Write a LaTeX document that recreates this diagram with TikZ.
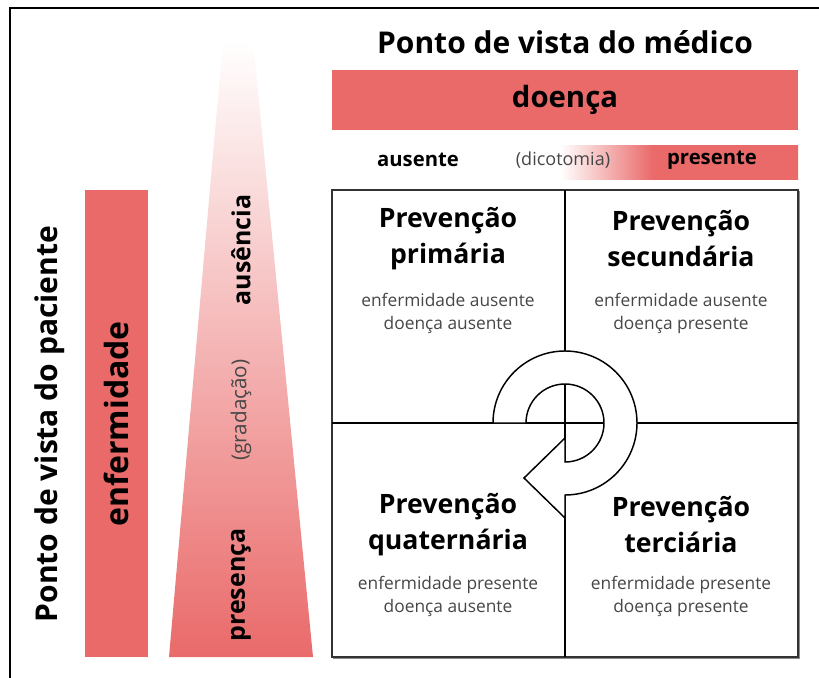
\documentclass[tikz,border=0pt]{standalone}
\usepackage{fontspec}
\setmainfont{Open Sans}
\usetikzlibrary{calc}

\definecolor{hred}{RGB}{234,106,106}
\definecolor{softgray}{RGB}{70,70,70}
% white until "(dicotomia)", then fading into red
\pgfdeclarehorizontalshading{dicot}{100bp}{color(0bp)=(white); color(49.5bp)=(white);
  color(59.4bp)=(hred); color(100bp)=(hred)}

\tikzset{
  headtxt/.style={font=\fontsize{22.5}{24}\selectfont\bfseries},
  bartxt/.style={font=\fontsize{22}{24}\selectfont\bfseries},
  endtxt/.style={font=\fontsize{15.2}{17}\selectfont\bfseries},
  notetxt/.style={font=\fontsize{13.5}{15}\selectfont, text=softgray},
  sidetxt/.style={rotate=90, font=\fontsize{18.7}{20}\selectfont\bfseries},
  quadtitle/.style={align=center, font=\fontsize{20}{27}\selectfont\bfseries},
  quadtxt/.style={align=center, font=\fontsize{13}{17.2}\selectfont, text=softgray},
  gridline/.style={line width=1.1pt}
}

\begin{document}
\begin{tikzpicture}[x=0.75pt,y=-0.75pt]
  \useasboundingbox (0,0) rectangle (819,678);
  % frame
  \draw[line width=1.5pt] (10,678) -- (10,8) -- (819,8);

  % doctor's view
  \node[headtxt] (medico) at (565,42) {Ponto de vista do médico};
  \fill[hred] (332,70) rectangle (798,130);
  \node[bartxt] (doenca) at (565,100) {doença};
  \shade[shading=dicot] (332,145) rectangle (798,179);
  \node[endtxt] (ausente) at (418,160) {ausente};
  \node[notetxt] (dicotomia) at (563,160) {(dicotomia)};
  \node[endtxt] (presente) at (712,160) {presente};

  % patient's view
  \node[headtxt, rotate=90] (paciente) at (50,424) {Ponto de vista do paciente};
  \fill[hred] (85,190) rectangle (148,657);
  \node[bartxt, font=\fontsize{24}{26}\selectfont\bfseries, rotate=90] (enferm) at (116,424) {enfermidade};
  \shade[top color=white, bottom color=hred]
    (223,40) -- (253,40) -- (313,657) -- (169,657) -- cycle;
  \node[sidetxt] (ausencia) at (241,250) {ausência};
  \node[notetxt, font=\fontsize{15.5}{17}\selectfont, rotate=90] (gradacao) at (241,410) {(gradação)};
  \node[sidetxt] (presenca) at (241,585) {presença};

  % quadrants
  \draw[line width=2pt, black!45] (799,191) -- (799,658) -- (333,658);
  \draw[gridline, black!80] (332,190) rectangle (798,657);
  \draw[gridline] (565,190) -- (565,657);
  \draw[gridline] (332,423) -- (798,423);

  % cycle arrow
  \coordinate (c) at (565,423);
  \draw[gridline, fill=white] ($(c)+(180:72)$) arc[start angle=180, end angle=450, radius=72]
    -- (565,518) -- (524,478) -- (565,438) -- (565,462)
    arc[start angle=450, end angle=180, radius=39] -- cycle;

  \node[quadtitle] (prim) at (448,239) {Prevenção\\primária};
  \node[quadtxt] (prim-txt) at (448,313) {enfermidade ausente\\doença ausente};
  \node[quadtitle] (sec) at (681,239) {Prevenção\\secundária};
  \node[quadtxt] (sec-txt) at (681,313) {enfermidade ausente\\doença presente};
  \node[quadtitle] (quat) at (448,525) {Prevenção\\quaternária};
  \node[quadtxt] (quat-txt) at (448,596) {enfermidade presente\\doença ausente};
  \node[quadtitle] (terc) at (681,525) {Prevenção\\terciária};
  \node[quadtxt] (terc-txt) at (681,596) {enfermidade presente\\doença presente};
\end{tikzpicture}
\end{document}
